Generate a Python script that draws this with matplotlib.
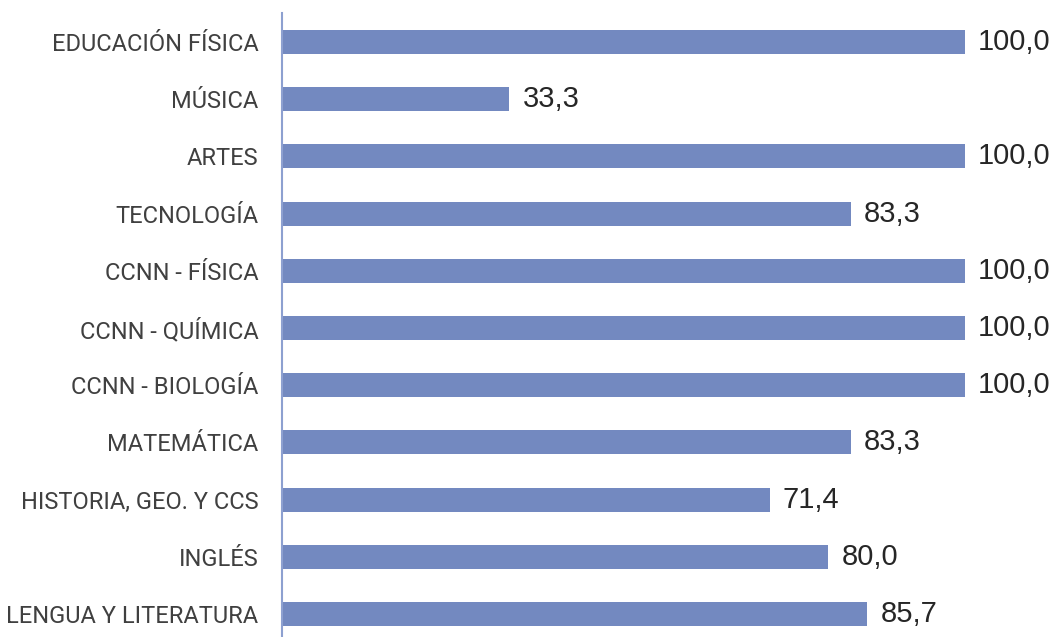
import matplotlib.pyplot as plt

subjects = ["EDUCACIÓN FÍSICA", "MÚSICA", "ARTES", "TECNOLOGÍA", "CCNN - FÍSICA",
            "CCNN - QUÍMICA", "CCNN - BIOLOGÍA", "MATEMÁTICA", "HISTORIA, GEO. Y CCS",
            "INGLÉS", "LENGUA Y LITERATURA"]
values = [100.0, 33.3, 100.0, 83.3, 100.0, 100.0, 100.0, 83.3, 71.4, 80.0, 85.7]

fig = plt.figure(figsize=(10.58, 6.37), dpi=100)
ax = fig.add_axes([282 / 1058, -5.6 / 637, (965 - 282) / 1058, 629.2 / 637])

ypos = list(range(len(subjects)))[::-1]
ax.barh(ypos, values, height=0.42, color="#7389c0")

for y, v in zip(ypos, values):
    ax.text(v + 1.9, y, f"{v:.1f}".replace(".", ","), va="center", ha="left",
            fontsize=21, color="#262626", family=["Liberation Sans", "DejaVu Sans"],
            clip_on=False)

ax.set_xlim(0, 100)
ax.set_ylim(-0.5, len(subjects) - 0.5)
ax.set_yticks(ypos)
ax.set_yticklabels(subjects, family=["Roboto", "DejaVu Sans"], fontsize=17, color="#404040")
ax.tick_params(axis="y", length=0, pad=17)
ax.set_xticks([])
for s in ["top", "right", "bottom"]:
    ax.spines[s].set_visible(False)
ax.spines["left"].set_color("#8da0d0")
ax.spines["left"].set_linewidth(1.5)

fig.savefig("out.png", dpi=100)
